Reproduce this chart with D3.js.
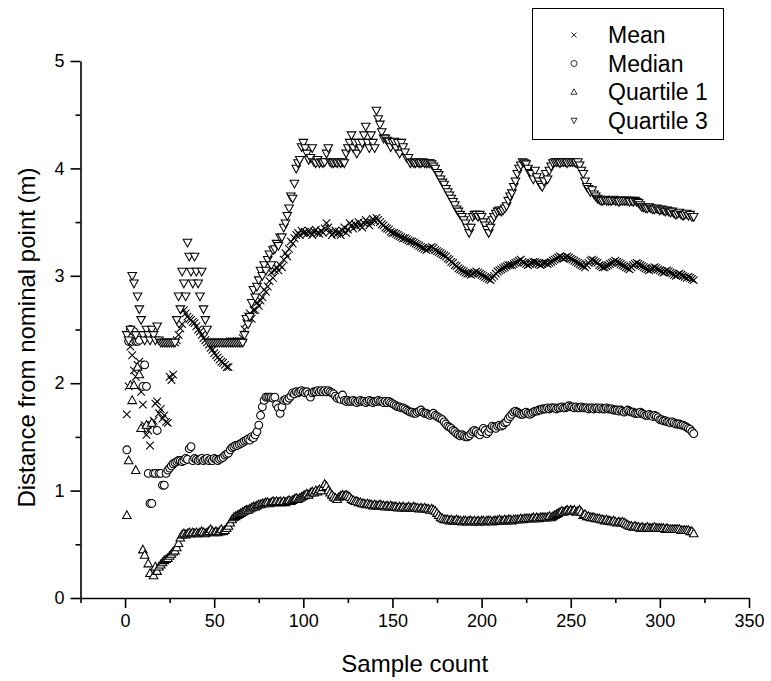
<!DOCTYPE html>
<html>
<head>
<meta charset="utf-8">
<script src="https://cdn.jsdelivr.net/npm/d3@7"></script>
<style>
  html, body { margin: 0; padding: 0; background: #fff; }
  svg { display: block; }
  text { font-family: "Liberation Sans", Arial, sans-serif; fill: #000; }
</style>
</head>
<body>
<svg id="chart" width="771" height="681"></svg>
<script>
// ---------------- DATA ----------------
const seriesNames = ["Mean", "Median", "Quartile 1", "Quartile 3"];
const xTickValues = [0, 50, 100, 150, 200, 250, 300, 350];
const yTickValues = [0, 1, 2, 3, 4, 5];

const meanValues = [
  1.71, 1.97, 2.34, 2.26, 2.12, 2.06, 2.17, 2.20, 1.92, 1.80,
  1.61, 1.52, 1.56, 1.42, 1.61, 1.65, 1.81, 1.83, 1.72, 1.76,
  1.67, 1.70, 1.64, 1.63, 2.06, 2.03, 2.08, 2.38, 2.40, 2.45,
  2.51, 2.55, 2.68, 2.65, 2.62, 2.60, 2.59, 2.57, 2.56, 2.53,
  2.50, 2.48, 2.45, 2.42, 2.40, 2.38, 2.36, 2.33, 2.31, 2.28,
  2.26, 2.24, 2.22, 2.20, 2.19, 2.17, 2.15, 2.15, 2.39, 2.39,
  2.39, 2.39, 2.39, 2.39, 2.39, 2.42, 2.50, 2.56, 2.62, 2.65,
  2.60, 2.68, 2.68, 2.75, 2.72, 2.77, 2.80, 2.87, 2.85, 2.90,
  2.95, 3.03, 2.98, 3.05, 3.08, 3.05, 3.10, 3.08, 3.15, 3.21,
  3.18, 3.25, 3.32, 3.30, 3.35, 3.38, 3.40, 3.38, 3.42, 3.40,
  3.41, 3.39, 3.42, 3.40, 3.38, 3.41, 3.43, 3.40, 3.39, 3.42,
  3.40, 3.44, 3.49, 3.45, 3.41, 3.38, 3.40, 3.42, 3.39, 3.41,
  3.38, 3.42, 3.45, 3.40, 3.43, 3.49, 3.47, 3.44, 3.48, 3.46,
  3.50, 3.47, 3.45, 3.49, 3.52, 3.50, 3.47, 3.50, 3.53, 3.51,
  3.54, 3.52, 3.50, 3.48, 3.47, 3.45, 3.44, 3.43, 3.41, 3.40,
  3.40, 3.39, 3.38, 3.37, 3.36, 3.35, 3.35, 3.34, 3.33, 3.32,
  3.32, 3.31, 3.30, 3.29, 3.28, 3.27, 3.26, 3.25, 3.24, 3.25,
  3.26, 3.27, 3.26, 3.24, 3.23, 3.22, 3.21, 3.20, 3.19, 3.18,
  3.16, 3.15, 3.13, 3.12, 3.10, 3.09, 3.07, 3.06, 3.05, 3.04,
  3.03, 3.02, 3.02, 3.01, 3.02, 3.03, 3.04, 3.03, 3.02, 3.01,
  3.00, 2.99, 2.98, 2.97, 2.96, 2.98, 3.00, 3.02, 3.04, 3.05,
  3.06, 3.07, 3.08, 3.09, 3.10, 3.10, 3.10, 3.11, 3.12, 3.13,
  3.14, 3.15, 3.13, 3.12, 3.11, 3.10, 3.11, 3.12, 3.13, 3.13,
  3.12, 3.11, 3.10, 3.11, 3.12, 3.12, 3.11, 3.12, 3.13, 3.14,
  3.15, 3.16, 3.17, 3.18, 3.17, 3.16, 3.17, 3.18, 3.17, 3.16,
  3.15, 3.14, 3.13, 3.12, 3.11, 3.10, 3.09, 3.08, 3.10, 3.12,
  3.14, 3.15, 3.14, 3.13, 3.12, 3.10, 3.09, 3.08, 3.08, 3.09,
  3.10, 3.11, 3.12, 3.13, 3.14, 3.13, 3.12, 3.11, 3.10, 3.09,
  3.08, 3.07, 3.06, 3.08, 3.10, 3.11, 3.12, 3.11, 3.10, 3.09,
  3.08, 3.07, 3.06, 3.05, 3.06, 3.07, 3.08, 3.07, 3.06, 3.05,
  3.04, 3.03, 3.04, 3.05, 3.04, 3.03, 3.02, 3.01, 3.00, 3.01,
  3.02, 3.01, 3.00, 2.99, 2.98, 2.99, 2.98, 2.97, 2.96
];

const medianValues = [
  1.38, 2.39, 2.50, 2.39, 2.48, 2.39, 2.39, 2.40, 2.17, 1.97,
  2.17, 1.97, 1.16, 0.88, 0.88, 1.16, 1.16, 1.56, 1.16, 1.16,
  1.05, 1.05, 1.16, 1.19, 1.21, 1.23, 1.25, 1.26, 1.27, 1.28,
  1.28, 1.27, 1.28, 1.30, 1.29, 1.39, 1.41, 1.28, 1.30, 1.29,
  1.28, 1.29, 1.30, 1.28, 1.29, 1.30, 1.28, 1.29, 1.28, 1.30,
  1.29, 1.28, 1.29, 1.30, 1.31, 1.33, 1.34, 1.35, 1.38, 1.40,
  1.41, 1.42, 1.42, 1.43, 1.44, 1.45, 1.46, 1.47, 1.48, 1.47,
  1.50, 1.49, 1.52, 1.55, 1.61, 1.70, 1.78, 1.84, 1.87, 1.87,
  1.87, 1.87, 1.86, 1.87, 1.80, 1.77, 1.72, 1.78, 1.84, 1.85,
  1.84, 1.86, 1.88, 1.91, 1.90, 1.92, 1.91, 1.92, 1.93, 1.92,
  1.91, 1.92, 1.90, 1.87, 1.91, 1.92, 1.92, 1.93, 1.92, 1.93,
  1.92, 1.93, 1.92, 1.93, 1.92, 1.91, 1.90, 1.88, 1.86, 1.87,
  1.85, 1.89, 1.84, 1.83, 1.84, 1.83, 1.83, 1.84, 1.83, 1.82,
  1.83, 1.84, 1.83, 1.83, 1.82, 1.83, 1.84, 1.83, 1.82, 1.83,
  1.83, 1.84, 1.83, 1.83, 1.82, 1.83, 1.82, 1.83, 1.82, 1.81,
  1.80, 1.79, 1.78, 1.78, 1.77, 1.77, 1.76, 1.75, 1.74, 1.73,
  1.73, 1.72, 1.72, 1.73, 1.74, 1.75, 1.73, 1.72, 1.72, 1.71,
  1.70, 1.71, 1.72, 1.70, 1.69, 1.68, 1.67, 1.66, 1.64, 1.62,
  1.60, 1.59, 1.58, 1.56, 1.55, 1.53, 1.52, 1.51, 1.52, 1.51,
  1.50, 1.50, 1.51, 1.53, 1.55, 1.56, 1.55, 1.53, 1.52, 1.55,
  1.58, 1.56, 1.53, 1.55, 1.58, 1.60, 1.59, 1.58, 1.60, 1.61,
  1.60, 1.61, 1.63, 1.64, 1.67, 1.69, 1.71, 1.73, 1.74, 1.73,
  1.72, 1.71, 1.71, 1.72, 1.73, 1.72, 1.71, 1.72, 1.73, 1.74,
  1.74, 1.75, 1.75, 1.76, 1.76, 1.76, 1.77, 1.76, 1.77, 1.77,
  1.77, 1.76, 1.77, 1.77, 1.78, 1.77, 1.77, 1.78, 1.79, 1.78,
  1.78, 1.77, 1.78, 1.77, 1.77, 1.78, 1.77, 1.77, 1.77, 1.76,
  1.77, 1.77, 1.76, 1.77, 1.77, 1.76, 1.77, 1.76, 1.76, 1.77,
  1.76, 1.76, 1.76, 1.75, 1.75, 1.75, 1.74, 1.75, 1.74, 1.73,
  1.74, 1.75, 1.74, 1.73, 1.73, 1.72, 1.72, 1.72, 1.73, 1.72,
  1.71, 1.70, 1.70, 1.71, 1.70, 1.69, 1.70, 1.69, 1.68, 1.66,
  1.66, 1.65, 1.65, 1.64, 1.64, 1.63, 1.64, 1.63, 1.62, 1.62,
  1.62, 1.61, 1.61, 1.60, 1.59, 1.58, 1.57, 1.55, 1.53
];

const quartile1Values = [
  0.77, 1.28, 1.98, 1.84, 1.98, 1.19, 2.15, 2.08, 1.58, 0.45,
  0.40, 1.61, 0.32, 0.23, 1.63, 0.21, 0.29, 0.25, 0.29, 0.31,
  0.33, 0.35, 0.36, 0.37, 0.39, 0.41, 0.43, 0.44, 0.47, 0.51,
  0.56, 0.59, 0.60, 0.59, 0.60, 0.61, 0.60, 0.61, 0.60, 0.61,
  0.60, 0.61, 0.62, 0.61, 0.60, 0.61, 0.62, 0.64, 0.62, 0.61,
  0.62, 0.61, 0.62, 0.64, 0.62, 0.63, 0.65, 0.67, 0.70, 0.73,
  0.75, 0.76, 0.77, 0.78, 0.79, 0.80, 0.81, 0.82, 0.82, 0.83,
  0.84, 0.85, 0.85, 0.86, 0.87, 0.87, 0.88, 0.88, 0.89, 0.89,
  0.88, 0.89, 0.90, 0.89, 0.90, 0.89, 0.90, 0.89, 0.90, 0.89,
  0.90, 0.91, 0.90, 0.91, 0.92, 0.93, 0.92, 0.93, 0.94, 0.95,
  0.96, 0.97, 0.96, 0.98, 0.99, 0.98, 1.00, 0.99, 1.01, 1.00,
  1.03, 1.06, 1.04, 1.00, 0.98, 0.96, 0.94, 0.93, 0.92, 0.94,
  0.95, 0.96, 0.95, 0.96, 0.95, 0.94, 0.92, 0.91, 0.90, 0.90,
  0.89, 0.89, 0.88, 0.88, 0.87, 0.88, 0.87, 0.87, 0.86, 0.87,
  0.86, 0.86, 0.87, 0.86, 0.86, 0.85, 0.86, 0.85, 0.86, 0.85,
  0.85, 0.85, 0.84, 0.85, 0.84, 0.85, 0.84, 0.84, 0.85, 0.84,
  0.84, 0.85, 0.84, 0.84, 0.83, 0.84, 0.83, 0.84, 0.83, 0.83,
  0.82, 0.83, 0.82, 0.81, 0.79, 0.77, 0.75, 0.74, 0.73, 0.73,
  0.73, 0.72, 0.73, 0.72, 0.72, 0.73, 0.72, 0.72, 0.71, 0.72,
  0.72, 0.71, 0.72, 0.72, 0.71, 0.72, 0.71, 0.72, 0.71, 0.72,
  0.72, 0.71, 0.72, 0.72, 0.72, 0.71, 0.72, 0.72, 0.72, 0.73,
  0.72, 0.72, 0.73, 0.72, 0.73, 0.73, 0.72, 0.73, 0.73, 0.73,
  0.73, 0.74, 0.73, 0.74, 0.74, 0.74, 0.74, 0.74, 0.75, 0.74,
  0.75, 0.74, 0.75, 0.75, 0.75, 0.75, 0.75, 0.76, 0.75, 0.76,
  0.77, 0.78, 0.79, 0.80, 0.81, 0.80, 0.81, 0.82, 0.81, 0.82,
  0.81, 0.82, 0.80, 0.81, 0.82, 0.80, 0.77, 0.78, 0.76, 0.76,
  0.75, 0.75, 0.75, 0.74, 0.74, 0.74, 0.73, 0.73, 0.72, 0.73,
  0.72, 0.72, 0.71, 0.72, 0.71, 0.70, 0.71, 0.70, 0.71, 0.70,
  0.69, 0.68, 0.67, 0.67, 0.66, 0.67, 0.66, 0.66, 0.65, 0.66,
  0.65, 0.65, 0.66, 0.65, 0.65, 0.65, 0.66, 0.65, 0.65, 0.65,
  0.65, 0.65, 0.64, 0.65, 0.64, 0.64, 0.64, 0.64, 0.64, 0.64,
  0.64, 0.63, 0.63, 0.63, 0.63, 0.63, 0.62, 0.62, 0.60
];

const quartile3Values = [
  2.45, 2.40, 2.50, 3.00, 2.93, 2.45, 2.81, 2.69, 2.59, 2.45,
  2.40, 2.50, 2.45, 2.40, 2.50, 2.45, 2.40, 2.53, 2.40, 2.38,
  2.38, 2.38, 2.38, 2.38, 2.38, 2.38, 2.38, 2.38, 2.59, 2.81,
  2.69, 3.04, 2.93, 2.81, 3.31, 3.18, 3.04, 2.93, 3.18, 3.04,
  2.93, 2.81, 3.04, 2.69, 2.59, 2.50, 2.38, 2.38, 2.38, 2.38,
  2.38, 2.38, 2.38, 2.38, 2.38, 2.38, 2.38, 2.38, 2.38, 2.38,
  2.38, 2.38, 2.38, 2.38, 2.38, 2.38, 2.45, 2.60, 2.55, 2.62,
  2.75, 2.87, 2.80, 2.90, 2.96, 3.05, 3.00, 3.10, 3.05, 3.15,
  3.20, 3.10, 3.24, 3.25, 3.30, 3.28, 3.36, 3.36, 3.45, 3.49,
  3.56, 3.63, 3.74, 3.72, 3.86, 4.00, 4.05, 4.08, 4.20, 4.24,
  4.19, 4.14, 4.08, 4.10, 4.19, 4.06, 4.05, 4.08, 4.05, 4.06,
  4.05, 4.06, 4.14, 4.19, 4.06, 4.05, 4.05, 4.06, 4.05, 4.06,
  4.05, 4.06, 4.05, 4.14, 4.19, 4.24, 4.31, 4.19, 4.24, 4.14,
  4.24, 4.19, 4.24, 4.31, 4.39, 4.24, 4.19, 4.31, 4.24, 4.19,
  4.54, 4.46, 4.41, 4.34, 4.28, 4.28, 4.26, 4.25, 4.20, 4.24,
  4.25, 4.19, 4.24, 4.14, 4.24, 4.20, 4.15, 4.10, 4.10, 4.05,
  4.06, 4.05, 4.05, 4.06, 4.05, 4.05, 4.06, 4.05, 4.05, 4.05,
  4.05, 4.04, 4.02, 4.00, 3.96, 3.94, 3.90, 3.87, 3.85, 3.81,
  3.78, 3.75, 3.72, 3.69, 3.66, 3.62, 3.60, 3.57, 3.55, 3.52,
  3.49, 3.45, 3.40, 3.45, 3.55, 3.57, 3.57, 3.55, 3.57, 3.55,
  3.50, 3.47, 3.43, 3.40, 3.45, 3.52, 3.55, 3.58, 3.60, 3.61,
  3.60, 3.61, 3.63, 3.65, 3.70, 3.74, 3.77, 3.83, 3.88, 3.95,
  4.00, 4.03, 4.06, 4.05, 4.04, 4.00, 3.96, 3.95, 3.90, 3.98,
  3.92, 3.88, 3.85, 3.83, 3.88, 3.95, 3.90, 3.98, 4.02, 4.05,
  4.06, 4.06, 4.06, 4.05, 4.06, 4.06, 4.06, 4.05, 4.06, 4.06,
  4.06, 4.06, 4.05, 4.06, 4.03, 3.98, 3.95, 3.88, 3.83, 3.81,
  3.78, 3.80, 3.76, 3.74, 3.72, 3.71, 3.70, 3.70, 3.71, 3.70,
  3.70, 3.70, 3.70, 3.71, 3.70, 3.70, 3.69, 3.70, 3.70, 3.70,
  3.70, 3.70, 3.69, 3.70, 3.69, 3.70, 3.69, 3.68, 3.66, 3.64,
  3.64, 3.63, 3.63, 3.64, 3.63, 3.62, 3.62, 3.63, 3.62, 3.61,
  3.62, 3.61, 3.60, 3.61, 3.60, 3.59, 3.60, 3.58, 3.57, 3.58,
  3.59, 3.57, 3.56, 3.57, 3.58, 3.56, 3.57, 3.55, 3.55
];

// sample counts (x) for each value: 1, 2, 3, ...
const sampleCounts = meanValues.map((_, i) => i + 1);

// ---------------- CHART ----------------
const svg = d3.select("#chart");
const x = d3.scaleLinear().domain([-25, 350]).range([80.5, 749]);
const y = d3.scaleLinear().domain([0, 5]).range([598, 61]);

// symbol paths
const symbolPath = {
  "Mean": s => `M${-s},${-s}L${s},${s}M${-s},${s}L${s},${-s}`,
  "Median": s => `M${s},0A${s},${s} 0 1,1 ${-s},0A${s},${s} 0 1,1 ${s},0Z`,
  "Quartile 1": s => `M0,${-s*1.05}L${s},${s*0.75}L${-s},${s*0.75}Z`,
  "Quartile 3": s => `M0,${s*1.05}L${s},${-s*0.75}L${-s},${-s*0.75}Z`
};
const seriesData = {
  "Mean": meanValues,
  "Median": medianValues,
  "Quartile 1": quartile1Values,
  "Quartile 3": quartile3Values
};
const symbolSize = { "Mean": 3.8, "Median": 3.9, "Quartile 1": 4.3, "Quartile 3": 4.3 };

// points
seriesNames.forEach(name => {
  const vals = seriesData[name];
  svg.append("g")
    .attr("class", "series")
    .selectAll("path")
    .data(sampleCounts.map((c, i) => [c, vals[i]]))
    .join("path")
    .attr("transform", d => `translate(${x(d[0])},${y(d[1])})`)
    .attr("d", symbolPath[name](symbolSize[name]))
    .attr("fill", name === "Mean" ? "none" : "#fff")
    .attr("stroke", "#000")
    .attr("stroke-width", 1.05);
});

// axes
const axisFont = "18px";
const xAxis = svg.append("g")
  .attr("transform", `translate(0,${y(0)})`)
  .call(d3.axisBottom(x).tickValues(xTickValues).tickSize(10).tickSizeOuter(0).tickPadding(6).tickFormat(d3.format("d")));
const xMinor = svg.append("g")
  .attr("transform", `translate(0,${y(0)})`)
  .call(d3.axisBottom(x).tickValues([-25, 25, 75, 125, 175, 225, 275, 325]).tickSize(5).tickSizeOuter(0).tickFormat(""));
const yAxis = svg.append("g")
  .attr("transform", `translate(${x(-25)},0)`)
  .call(d3.axisLeft(y).tickValues(yTickValues).tickSize(10).tickSizeOuter(0).tickPadding(6).tickFormat(d3.format("d")));
const yMinor = svg.append("g")
  .attr("transform", `translate(${x(-25)},0)`)
  .call(d3.axisLeft(y).tickValues([0.5, 1.5, 2.5, 3.5, 4.5]).tickSize(5).tickSizeOuter(0).tickFormat(""));

[xAxis, xMinor, yAxis, yMinor].forEach(g => {
  g.selectAll("path.domain").attr("stroke", "#000").attr("stroke-width", 1.6);
  g.selectAll(".tick line").attr("stroke", "#000").attr("stroke-width", 1.6);
  g.selectAll(".tick text")
    .style("font-family", '"Liberation Sans", Arial, sans-serif')
    .style("font-size", axisFont)
    .attr("fill", "#000");
});
xMinor.select("path.domain").remove();
yMinor.select("path.domain").remove();

// axis titles
svg.append("text")
  .attr("x", (x(-25) + x(350)) / 2)
  .attr("y", 672)
  .attr("text-anchor", "middle")
  .style("font-size", "24px")
  .text("Sample count");

svg.append("text")
  .attr("transform", `translate(35,${(y(0) + y(5)) / 2 + 8}) rotate(-90)`)
  .attr("text-anchor", "middle")
  .style("font-size", "24px")
  .text("Distance from nominal point (m)");

// legend
const legend = svg.append("g").attr("class", "legend");
legend.append("rect")
  .attr("x", 532.5).attr("y", 8.5)
  .attr("width", 191).attr("height", 131)
  .attr("fill", "#fff").attr("stroke", "#000").attr("stroke-width", 1);
seriesNames.forEach((name, i) => {
  const baseY = 43 + i * 28.5;
  legend.append("path")
    .attr("transform", `translate(574,${baseY - 8})`)
    .attr("d", symbolPath[name](name === "Mean" ? 2.5 : 3))
    .attr("fill", name === "Mean" ? "none" : "#fff")
    .attr("stroke", "#000")
    .attr("stroke-width", 0.8);
  legend.append("text")
    .attr("x", 608).attr("y", baseY)
    .style("font-size", "23px")
    .text(name);
});
</script>
</body>
</html>
